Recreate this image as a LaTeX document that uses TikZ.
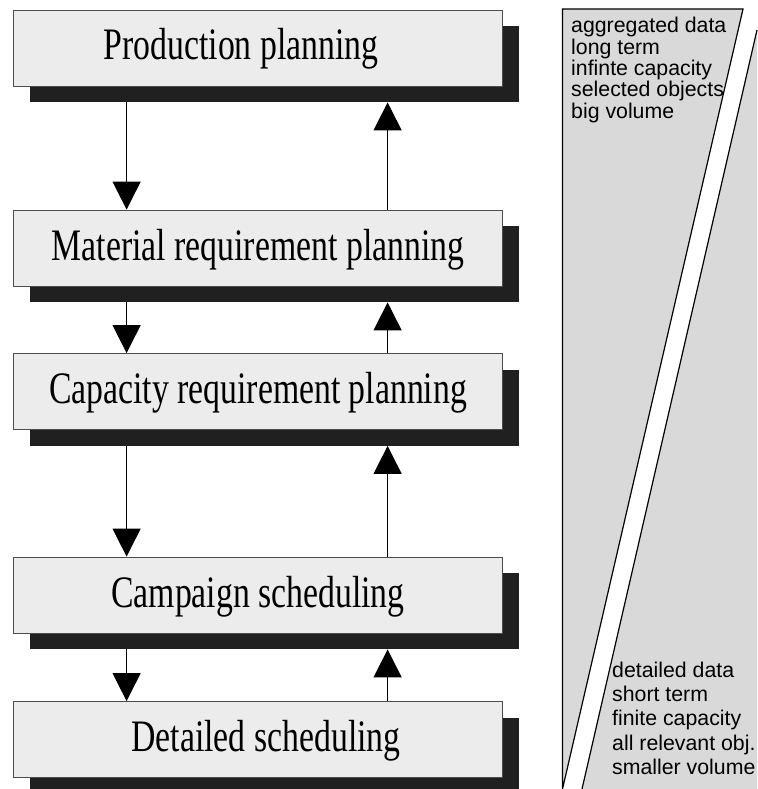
\documentclass[tikz,border=0pt]{standalone}
\usepackage{fontspec}
\setmainfont{Liberation Serif}
\newfontfamily\panelfont{Liberation Sans}
\usepackage{graphicx}
\usetikzlibrary{arrows.meta,shadows,calc}
\definecolor{boxc}{RGB}{236,236,236}
\definecolor{panelc}{RGB}{217,217,217}
\definecolor{shadowc}{RGB}{32,32,32}
\begin{document}
\begin{tikzpicture}[x=1pt,y=-1pt,
  box/.style={draw=black!70, line width=0.8pt, fill=boxc,
    minimum width=489pt, minimum height=76pt, inner sep=0pt,
    text height=36pt, text depth=12pt,
    font=\fontsize{45}{50}\selectfont,
    drop shadow={shadow xshift=16pt, shadow yshift=-16pt, fill=shadowc, opacity=1}},
  flow/.style={line width=1.2pt, -{Triangle[width=28pt,length=28pt]}},
  ptext/.style={anchor=base west, inner sep=0pt, font=\panelfont\fontsize{21.3}{24}\selectfont}]
\useasboundingbox (0,0) rectangle (757,789);

% right panel
\filldraw[fill=panelc, draw=black, line width=1.2pt, line join=miter]
  (562.5,9) -- (743,9) -- (562.5,789) -- cycle;
\fill[panelc] (757,30) -- (582,789) -- (757,789) -- cycle;
\draw[line width=1.2pt] (757,30) -- (582,789);

\node[ptext] (t1) at (571,33) {aggregated data};
\node[ptext] (t2) at (571,54.5) {long term};
\node[ptext] (t3) at (571,76) {infinte capacity};
\node[ptext] (t4) at (571,97) {selected objects};
\node[ptext] (t5) at (571,118) {big volume};

\node[ptext] (u1) at (612,677) {detailed data};
\node[ptext] (u2) at (612,701) {short term};
\node[ptext] (u3) at (612,725.5) {finite capacity};
\node[ptext] (u4) at (612,750) {all relevant obj.};
\node[ptext] (u5) at (612,774) {smaller volume};

% boxes
\node[box] (b1) at (258,48) {\scalebox{0.75}[1]{Production planning}\hspace*{34pt}};
\node[box] (b2) at (258,248) {\scalebox{0.75}[1]{Material requirement planning}};
\node[box] (b3) at (258,391.5) {\scalebox{0.75}[1]{Capacity requirement planning}};
\node[box] (b4) at (258,595) {\scalebox{0.75}[1]{Campaign scheduling}};
\node[box] (b5) at (258,739.5) {\hspace*{16pt}\scalebox{0.75}[1]{Detailed scheduling}};

% connectors
\foreach \a/\b in {b1/b2,b2/b3,b3/b4,b4/b5}{
  \draw[flow] ($(\a.south west)+(113.5,16)$) -- ($(\b.north west)+(113.5,0)$);
  \draw[flow] ($(\b.north west)+(374.5,0)$) -- ($(\a.south west)+(374.5,16)$);
}
\end{tikzpicture}
\end{document}
